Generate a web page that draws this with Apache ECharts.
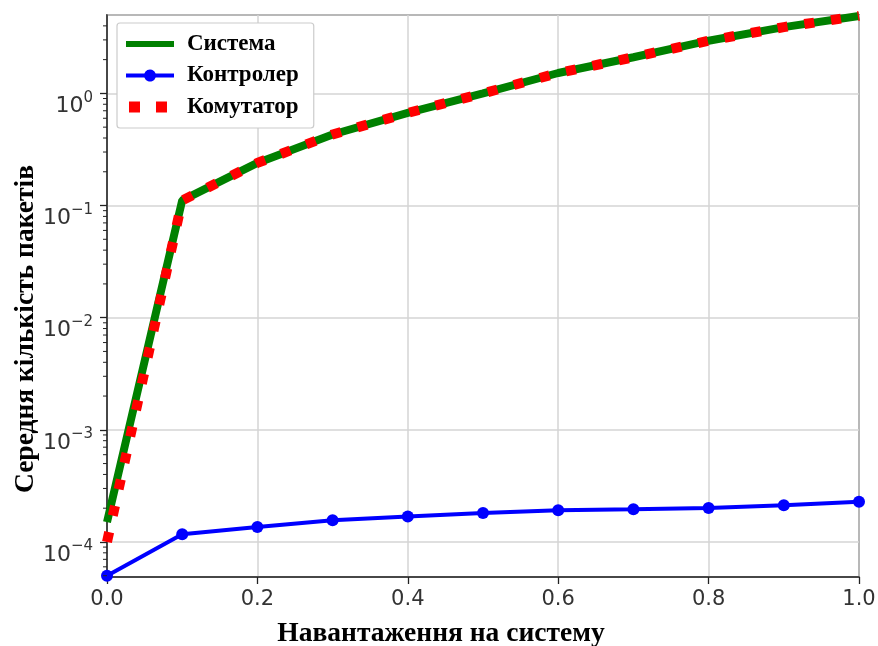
<!DOCTYPE html>
<html>
<head>
<meta charset="utf-8">
<script src="https://cdn.jsdelivr.net/npm/echarts@6/dist/echarts.min.js"></script>
<style>html,body{margin:0;padding:0;background:#fff}#c{width:878px;height:646px}</style>
</head>
<body>
<div id="c"></div>
<script>
const loads = [0.0, 0.1, 0.2, 0.3, 0.4, 0.5, 0.6, 0.7, 0.8, 0.9, 1.0];
const systemVals = [1.5e-4, 0.111, 0.24, 0.43, 0.67, 1.0, 1.52, 2.1, 2.95, 3.9, 4.9];
const controllerVals = [5.0e-5, 1.17e-4, 1.36e-4, 1.56e-4, 1.69e-4, 1.81e-4, 1.92e-4, 1.96e-4, 2.01e-4, 2.12e-4, 2.28e-4];
const switchVals = [1.0e-4, 0.111, 0.24, 0.43, 0.67, 1.0, 1.52, 2.1, 2.95, 3.9, 4.9];
const seriesNames = ['Система', 'Контролер', 'Комутатор'];
const xTicks = ['0.0', '0.2', '0.4', '0.6', '0.8', '1.0'];
const yMin = 4.87e-5, yMax = 5.0;
const minorMultipliers = [2, 3, 4, 5, 6, 7, 8, 9];
const minorExponents = [-5, -4, -3, -2, -1, 0];

const minorTicks = [];
minorExponents.forEach(e => minorMultipliers.forEach(m => {
  const v = m * Math.pow(10, e);
  if (v > yMin && v < yMax) minorTicks.push([0, v]);
}));

const pairs = arr => loads.map((x, i) => [x, arr[i]]);

const iconSystem = 'path://M0,0H48V6H0Z';
const iconController = 'path://M0,5H18.34A6,6 0 0 1 29.66,5H48V9H29.66A6,6 0 0 1 18.34,9H0Z';
const iconSwitch = 'path://M3,0h11v11h-11zM30,0h11v11h-11zM0,5h0.01v0.01h-0.01zM48,5h0.01v0.01h-0.01z';

const chart = echarts.init(document.getElementById('c'));
chart.setOption({
  animation: false,
  backgroundColor: '#fff',
  grid: {left: 107, right: 19, top: 15, bottom: 69, show: true, borderColor: '#333', borderWidth: 1.5,
         containLabel: false, outerBoundsMode: 'none'},
  legend: {
    data: [
      {name: seriesNames[0], icon: iconSystem},
      {name: seriesNames[1], icon: iconController},
      {name: seriesNames[2], icon: iconSwitch}
    ],
    orient: 'vertical',
    left: 117, top: 23,
    padding: [9, 15, 9, 9],
    itemWidth: 48, itemHeight: 14, itemGap: 7.5,
    borderColor: '#ccc', borderWidth: 1.2, borderRadius: 3,
    backgroundColor: '#fff',
    textStyle: {fontFamily: 'Liberation Serif', fontWeight: 'bold', fontSize: 23, color: '#000', lineHeight: 24, padding: [0, 0, 0, 8]}
  },
  xAxis: {
    type: 'value', min: 0, max: 1, interval: 0.2,
    name: 'Навантаження на систему', nameLocation: 'middle', nameGap: 43, nameMoveOverlap: false,
    nameTextStyle: {fontFamily: 'Liberation Serif', fontWeight: 'bold', fontSize: 27.5, color: '#000', padding: [0, 84, 0, 0]},
    axisLine: {lineStyle: {color: '#222', width: 1.5}},
    axisTick: {length: 7, lineStyle: {color: '#222', width: 1.3}},
    axisLabel: {fontFamily: 'DejaVu Sans', fontSize: 21, color: '#333', margin: 12,
      formatter: v => xTicks[Math.round(v / 0.2)]},
    splitLine: {show: true, lineStyle: {color: '#d4d4d4', width: 1.5}}
  },
  yAxis: {
    type: 'log', logBase: 10, min: yMin, max: yMax,
    name: 'Середня кількість пакетів', nameLocation: 'middle', nameGap: 67, nameMoveOverlap: false,
    nameTextStyle: {fontFamily: 'Liberation Serif', fontWeight: 'bold', fontSize: 27.5, color: '#000', padding: [0, 66, 0, 0]},
    axisLine: {show: true, lineStyle: {color: '#222', width: 1.5}},
    axisTick: {length: 7, lineStyle: {color: '#222', width: 1.3}},
    axisLabel: {
      showMinLabel: false, showMaxLabel: false, margin: 14,
      formatter: v => {
        const e = Math.round(Math.log10(v));
        return '{b|10}{s|' + String(e).replace('-', '−') + '}';
      },
      rich: {
        b: {fontFamily: 'DejaVu Sans', fontSize: 22, color: '#333', lineHeight: 48, verticalAlign: 'bottom'},
        s: {fontFamily: 'DejaVu Sans', fontSize: 15, color: '#333', lineHeight: 15, verticalAlign: 'top', padding: [21, 0, 0, 0]}
      }
    },
    splitLine: {show: true, lineStyle: {color: '#d4d4d4', width: 1.5}}
  },
  series: [
    {name: seriesNames[0], type: 'line', data: pairs(systemVals), symbol: 'none',
     lineStyle: {color: '#008000', width: 8}, itemStyle: {color: '#008000'}, z: 2},
    {name: seriesNames[1], type: 'line', data: pairs(controllerVals), symbol: 'circle', symbolSize: 12,
     lineStyle: {color: '#0000ff', width: 4}, itemStyle: {color: '#0000ff'}, z: 3},
    {name: seriesNames[2], type: 'line', data: pairs(switchVals), symbol: 'none',
     lineStyle: {color: '#ff0000', width: 10, type: [10, 17], cap: 'butt'}, itemStyle: {color: '#ff0000'}, z: 4},
    {type: 'custom', data: minorTicks, silent: true, z: 10, clip: false,
     encode: {x: 0, y: 1},
     renderItem: (params, api) => {
       const p = api.coord([0, api.value(1)]);
       return {type: 'line', shape: {x1: p[0] - 4, y1: p[1], x2: p[0], y2: p[1]},
               style: {stroke: '#222', lineWidth: 1}};
     }}
  ]
});
</script>
</body>
</html>
